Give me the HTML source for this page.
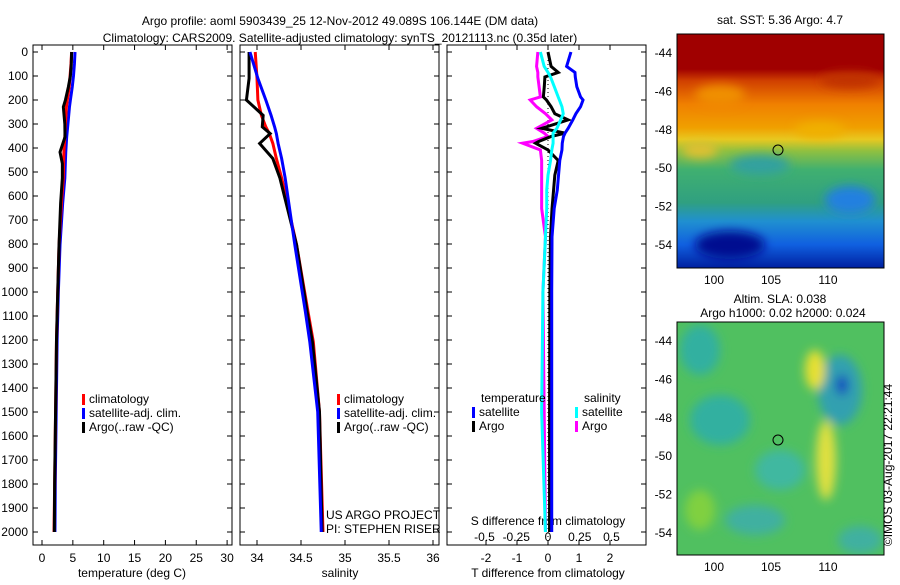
<!DOCTYPE html>
<html><head><meta charset="utf-8"><style>
body{margin:0;background:#fff;font-family:"Liberation Sans",sans-serif}
svg text{font-family:"Liberation Sans",sans-serif;font-size:12px;fill:#000}
</style></head><body>
<svg id="c" width="900" height="580" xmlns="http://www.w3.org/2000/svg">
<defs>
<linearGradient id="g1" x1="0" y1="0" x2="0" y2="1">
<stop offset="0" stop-color="#a00000"/><stop offset="0.15" stop-color="#a00000"/><stop offset="0.2" stop-color="#d04000"/>
<stop offset="0.3" stop-color="#f08000"/><stop offset="0.4" stop-color="#f0a000"/><stop offset="0.45" stop-color="#e8c820"/>
<stop offset="0.5" stop-color="#90c040"/><stop offset="0.58" stop-color="#40b070"/><stop offset="0.72" stop-color="#30a080"/>
<stop offset="0.8" stop-color="#2090d0"/><stop offset="0.9" stop-color="#1060e0"/><stop offset="1" stop-color="#0020a0"/>
</linearGradient>
<filter id="bl"><feGaussianBlur stdDeviation="5"/></filter>
<clipPath id="m1c"><rect x="677" y="34" width="207" height="234"/></clipPath>
<clipPath id="m2c"><rect x="677" y="322" width="207" height="233"/></clipPath>
</defs>
<text x="340" y="25" text-anchor="middle" font-size="13">Argo profile: aoml 5903439_25 12-Nov-2012 49.089S 106.144E (DM data)</text>
<text x="340" y="42" text-anchor="middle" font-size="13">Climatology: CARS2009. Satellite-adjusted climatology: synTS_20121113.nc (0.35d later)</text>
<g id="plots"></g>
<g clip-path="url(#m1c)">
<rect x="677" y="34" width="207" height="234" fill="url(#g1)"/>
<g filter="url(#bl)">
<ellipse cx="720" cy="95" rx="25" ry="10" fill="#f09000"/><ellipse cx="850" cy="80" rx="30" ry="8" fill="#c03000"/>
<ellipse cx="760" cy="165" rx="30" ry="10" fill="#30a0a0"/><ellipse cx="850" cy="200" rx="25" ry="14" fill="#2080e0"/>
<ellipse cx="730" cy="245" rx="35" ry="14" fill="#001090"/><ellipse cx="700" cy="150" rx="18" ry="8" fill="#e0c030"/>
<ellipse cx="820" cy="130" rx="25" ry="8" fill="#f0b000"/>
</g></g>
<rect x="677" y="34" width="207" height="234" fill="none" stroke="#000"/>
<circle cx="778" cy="150" r="5" fill="none" stroke="#000"/>
<text x="780" y="24" text-anchor="middle" font-size="12">sat. SST: 5.36 Argo: 4.7</text>
<g clip-path="url(#m2c)">
<rect x="677" y="322" width="207" height="233" fill="#50c060"/>
<g filter="url(#bl)">
<ellipse cx="700" cy="350" rx="20" ry="25" fill="#30b0a0"/><ellipse cx="720" cy="420" rx="30" ry="25" fill="#30b0a0"/>
<ellipse cx="780" cy="470" rx="25" ry="20" fill="#40b8a0"/><ellipse cx="840" cy="390" rx="22" ry="35" fill="#30a0b0"/>
<ellipse cx="842" cy="385" rx="6" ry="10" fill="#1040c0"/><ellipse cx="815" cy="370" rx="10" ry="20" fill="#e8e030"/>
<ellipse cx="826" cy="460" rx="10" ry="40" fill="#e0e040"/><ellipse cx="755" cy="520" rx="30" ry="15" fill="#40b0a0"/>
<ellipse cx="860" cy="540" rx="22" ry="14" fill="#40b0a0"/><ellipse cx="700" cy="510" rx="15" ry="20" fill="#80d040"/>
</g></g>
<rect x="677" y="322" width="207" height="233" fill="none" stroke="#000"/>
<circle cx="778" cy="440" r="5" fill="none" stroke="#000"/>
<text x="780" y="303" text-anchor="middle" font-size="12">Altim. SLA: 0.038</text>
<text x="783" y="317" text-anchor="middle" font-size="12">Argo h1000: 0.02 h2000: 0.024</text>
<text transform="translate(892,465) rotate(-90)" text-anchor="middle" font-size="12">©IMOS 03-Aug-2017 22:21:44</text>
</svg>
<script>
const depthTicks=[0,100,200,300,400,500,600,700,800,900,1000,1100,1200,1300,1400,1500,1600,1700,1800,1900,2000];
const tDepth=[0,50,100,146,200,229,300,354,417,465,525,630,804,1000,1200,1500,1800,2000];
const tempClim=[4.8,4.7,4.55,4.4,4.1,3.95,3.8,3.7,3.55,3.5,3.45,3.15,2.76,2.55,2.35,2.2,2.05,1.95];
const tempSat=[5.35,5.25,5.1,4.9,4.6,4.45,4.2,4.0,3.85,3.78,3.7,3.35,2.92,2.65,2.45,2.3,2.15,2.1];
const tempArgo=[4.8,4.75,4.6,4.27,3.8,3.46,3.7,3.73,2.92,3.3,3.3,3.02,2.76,2.55,2.35,2.2,2.05,2.0];
const sDepth=[0,110,200,264,312,340,381,444,525,804,1083,1208,1500,2000];
const salClim=[33.98,34.0,34.01,34.05,34.1,34.14,34.18,34.22,34.28,34.45,34.58,34.64,34.71,34.75];
const salSat=[33.92,34.01,34.1,34.16,34.2,34.22,34.24,34.28,34.32,34.43,34.55,34.6,34.69,34.73];
const salArgo=[33.91,33.91,33.88,34.07,34.06,34.15,34.03,34.18,34.26,34.45,34.57,34.63,34.71,34.74];
const dDepth=[0,60,85,104,145,187,200,228,257,283,318,338,352,373,380,408,452,513,575,652,770,1000,1500,2000];
const tDiffSat=[0.74,0.6,0.87,0.88,0.93,1.05,1.13,1.05,0.9,0.8,0.65,0.55,0.5,0.47,0.46,0.45,0.38,0.34,0.3,0.2,0.13,0.12,0.12,0.12];
const tDiffArgo=[0,0.1,0.33,-0.1,-0.12,-0.15,-0.05,0.1,0.22,0.65,-0.2,0.55,0.1,-0.3,-0.4,0,0.33,0.22,0.18,0.13,0.08,0.06,0.05,0.05];
const sDiffSat=[-0.06,-0.03,0,0.02,0.05,0.08,0.09,0.11,0.12,0.1,0.07,0.04,0.04,0.04,0.04,0.03,0.02,0.0,-0.01,-0.01,-0.02,-0.04,-0.05,-0.02];
const sDiffArgo=[-0.08,-0.09,-0.08,-0.08,-0.07,-0.06,-0.14,-0.09,-0.02,0.03,-0.09,-0.03,0,-0.12,-0.2,-0.06,-0.05,-0.05,-0.05,-0.05,-0.02,-0.04,-0.03,-0.02];
const tTicks=[0,5,10,15,20,25,30];
const sTicks=[34,34.5,35,35.5,36];
const tdTicks=[-2,-1,0,1,2];
const sdTicks=[-0.5,-0.25,0,0.25,0.5];
const NS="http://www.w3.org/2000/svg";
const root=document.getElementById('plots');
function el(tag,attrs,parent){const e=document.createElementNS(NS,tag);for(const k in attrs)e.setAttribute(k,attrs[k]);(parent||root).appendChild(e);return e;}
function txt(x,y,s,anchor,parent){const t=el('text',{x:x,y:y,'text-anchor':anchor||'middle'},parent);t.textContent=s;return t;}
const Y=d=>52+d*0.24;
const pT=v=>42+v*6.17, pS=v=>257+(v-34)*88, pTD=v=>548+v*31, pSD=v=>548+v*127;
function panel(x0,name){
  const g=el('g',{});
  
  
  el('rect',{x:x0,y:45,width:199,height:500,fill:'none',stroke:'#000'},g);
  depthTicks.forEach(d=>{el('line',{x1:x0,x2:x0+5,y1:Y(d),y2:Y(d),stroke:'#000'},g);el('line',{x1:x0+194,x2:x0+199,y1:Y(d),y2:Y(d),stroke:'#000'},g);});
  return g;
}
function line(g,xs,ds,f,col,w,name){
  const p=el('polyline',{points:xs.map((v,i)=>f(v)+','+Y(ds[i])).join(' '),fill:'none',stroke:col,'stroke-width':w||3},g);
  
  
}
function xticks(g,x0,ticks,f,y,labelY){ticks.forEach(v=>{el('line',{x1:f(v),x2:f(v),y1:y,y2:y-5,stroke:'#000'},g);el('line',{x1:f(v),x2:f(v),y1:45,y2:50,stroke:'#000'},g);txt(f(v),labelY,String(v),'middle',g);});}
function legend(g,x,y,items){items.forEach((it,i)=>{el('rect',{x:x,y:y+i*14-9,width:3,height:11,fill:it[1]},g);txt(x+7,y+i*14,it[0],'start',g);});}
let g1=panel(33,'temperature-panel');
depthTicks.forEach(d=>txt(28,Y(d)+4,String(d),'end',g1));
xticks(g1,33,tTicks,pT,545,562);
txt(132,577,'temperature (deg C)','middle',g1);
line(g1,tempSat,tDepth,pT,'#00f',3,'temperature-satellite-line');
line(g1,tempClim,tDepth,pT,'#f00',3,'temperature-climatology-line');
line(g1,tempArgo,tDepth,pT,'#000',3,'temperature-argo-line');
legend(g1,82,403,[['climatology','#f00'],['satellite-adj. clim.','#00f'],['Argo(..raw -QC)','#000']]);
let g2=panel(240,'salinity-panel');
xticks(g2,240,sTicks,pS,545,562);
txt(340,577,'salinity','middle',g2);
line(g2,salClim,sDepth,pS,'#f00',3,'salinity-climatology-line');
line(g2,salArgo,sDepth,pS,'#000',3,'salinity-argo-line');
line(g2,salSat,sDepth,pS,'#00f',3,'salinity-satellite-line');
legend(g2,337,403,[['climatology','#f00'],['satellite-adj. clim.','#00f'],['Argo(..raw -QC)','#000']]);
txt(326,519,'US ARGO PROJECT','start',g2);txt(326,533,'PI: STEPHEN RISER','start',g2);
let g3=panel(447,'difference-panel');
el('line',{x1:548,x2:548,y1:52,y2:540,stroke:'#000','stroke-dasharray':'1,3'},g3);
tdTicks.forEach(v=>{el('line',{x1:pTD(v),x2:pTD(v),y1:545,y2:540,stroke:'#000'},g3);el('line',{x1:pTD(v),x2:pTD(v),y1:45,y2:50,stroke:'#000'},g3);txt(pTD(v),562,String(v),'middle',g3);});
sdTicks.forEach(v=>txt(pSD(v),541,String(v),'middle',g3));
txt(548,525,'S difference from climatology','middle',g3);
txt(548,577,'T difference from climatology','middle',g3);
line(g3,sDiffArgo,dDepth,pSD,'#f0f',3,'salinity-diff-argo-line');
line(g3,tDiffArgo,dDepth,pTD,'#000',3,'temperature-diff-argo-line');
line(g3,sDiffSat,dDepth,pSD,'#0ff',3,'salinity-diff-satellite-line');
line(g3,tDiffSat,dDepth,pTD,'#00f',3,'temperature-diff-satellite-line');
txt(481,402,'temperature','start',g3);txt(584,402,'salinity','start',g3);
legend(g3,472,416,[['satellite','#00f'],['Argo','#000']]);
legend(g3,575,416,[['satellite','#0ff'],['Argo','#f0f']]);
function mapAxes(x0,y0,lat0){
  const g=el('g',{});
  
  
  [-44,-46,-48,-50,-52,-54].forEach((la,i)=>{const y=lat0+i*38.4;txt(672,y+4,String(la),'end',g);el('line',{x1:677,x2:681,y1:y,y2:y,stroke:'#000'},g);});
  [100,105,110].forEach(lo=>{const x=714+(lo-100)*11.4;txt(x,y0+16,String(lo),'middle',g);});
}
mapAxes(677,268,53);mapAxes(677,555,341);
</script>
</body></html>
